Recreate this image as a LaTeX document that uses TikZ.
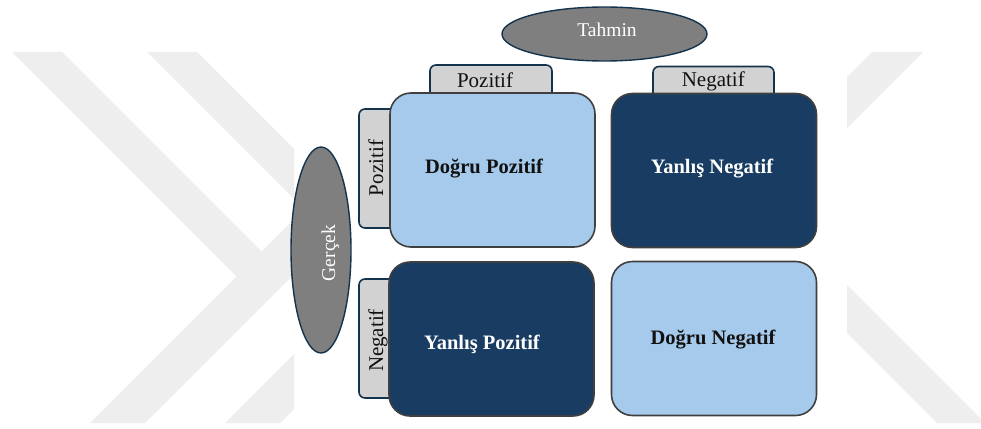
\documentclass[tikz,border=0pt]{standalone}
\usepackage{fontspec}
\setmainfont{Liberation Serif}
\usetikzlibrary{shapes.geometric}

\definecolor{paleblue}{HTML}{A6CAEC}
\definecolor{deepnavy}{HTML}{193C62}
\definecolor{ovalgray}{HTML}{7F7F7F}
\definecolor{tabgray}{HTML}{D2D2D2}
\definecolor{edgenavy}{HTML}{14334D}
\definecolor{edgegray}{HTML}{404040}
\definecolor{markgray}{HTML}{EEEEEE}
\definecolor{inkblack}{HTML}{111111}

\begin{document}
\begin{tikzpicture}[x=1pt,y=-1pt,
  cell/.style={draw=edgegray, line width=1.6pt, rounded corners=21pt,
    minimum width=205pt, minimum height=154pt, inner sep=0pt},
  lightcell/.style={cell, fill=paleblue},
  darkcell/.style={cell, fill=deepnavy},
  tab/.style={draw=edgenavy, line width=1.6pt, fill=tabgray,
    rounded corners=6pt, inner sep=0pt},
  oval/.style={ellipse, draw=edgenavy, line width=1.4pt, fill=ovalgray, inner sep=0pt},
  celltext/.style={font=\fontsize{20.5pt}{24pt}\selectfont\bfseries, anchor=base},
  tabtext/.style={font=\fontsize{21pt}{25pt}\selectfont, anchor=base, text=inkblack},
  ovaltext/.style={font=\fontsize{19.5pt}{23pt}\selectfont, anchor=base, text=white},
]
\useasboundingbox (0,0) rectangle (981,428);
\fill[white] (0,0) rectangle (981,428);

% faint background chevrons, kept outside the central panel
\begin{scope}
  \clip (0,52) rectangle (294,423) (847,52) rectangle (981,423);
  \fill[markgray] (12,52) -- (62,52) -- (261.5,251.5) -- (236.5,276.5) -- cycle;
  \fill[markgray] (80,433) -- (135,433) -- (420,148) -- (365,148) -- cycle;
  \fill[markgray] (147,52) -- (197,52) -- (396.5,251.5) -- (371.5,276.5) -- cycle;
  \fill[markgray] (215,433) -- (270,433) -- (555,148) -- (500,148) -- cycle;
  \fill[markgray] (872,52) -- (923,52) -- (700,275) -- (649,275) -- cycle;
  \fill[markgray] (800,238) -- (1100,538) -- (1100,586) -- (800,286) -- cycle;
\end{scope}

% axis ovals
\node[oval, minimum width=205pt, minimum height=54pt] (pred) at (604.5,34) {};
\node[oval, minimum width=60pt, minimum height=206pt] (real) at (321,250) {};

% header tabs (drawn first so the cells overlap them)
\node[tab, minimum width=122pt, minimum height=35pt] (tpos) at (491,82.5) {};
\node[tab, minimum width=121pt, minimum height=33.5pt] (tneg) at (713.5,83.25) {};
\node[tab, minimum width=41pt, minimum height=119pt] (lpos) at (379.5,168.5) {};
\node[tab, minimum width=41pt, minimum height=119pt] (lneg) at (379.5,338.5) {};

% confusion matrix cells
\node[lightcell] (tp) at (492.5,170) {};
\node[darkcell]  (fn) at (714,170.5) {};
\node[darkcell]  (fp) at (491.5,339) {};
\node[lightcell] (tn) at (714,338.5) {};

% labels
\node[ovaltext] (predlbl) at (607,37) {Tahmin};
\node[ovaltext, rotate=90] (reallbl) at (335,253) {Gerçek};
\node[tabtext] (tposlbl) at (485,87.3) {Pozitif};
\node[tabtext] (tneglbl) at (713.3,86) {Negatif};
\node[tabtext, rotate=90] (lposlbl) at (383,168) {Pozitif};
\node[tabtext, rotate=90] (lneglbl) at (383,340.5) {Negatif};

\node[celltext, text=inkblack] (tplbl) at (484,173) {Doğru Pozitif};
\node[celltext, text=white] (fnlbl) at (712,173) {Yanlış Negatif};
\node[celltext, text=white] (fplbl) at (482,349) {Yanlış Pozitif};
\node[celltext, text=inkblack] (tnlbl) at (713,344) {Doğru Negatif};
\end{tikzpicture}
\end{document}
